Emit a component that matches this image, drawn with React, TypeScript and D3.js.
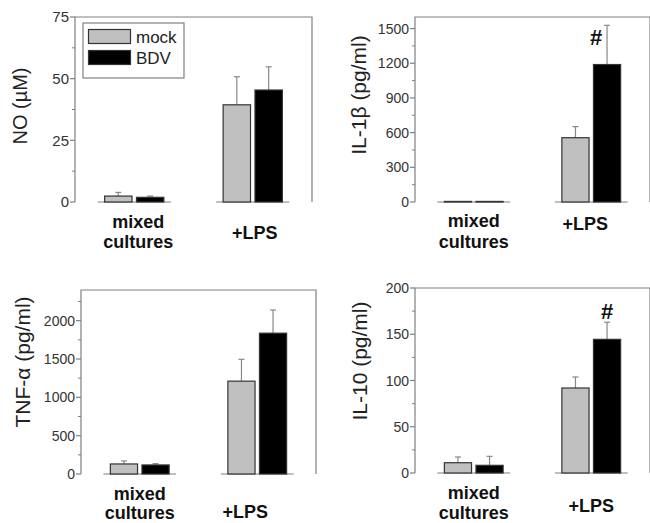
import React, { useEffect, useRef } from 'react'
import * as d3 from 'd3'

const groups = ['mixed cultures', '+LPS']
const seriesNames = ['mock', 'BDV']
const seriesFill = ['#c0c0c0', '#000000']

// values: [mixed cultures, +LPS]
const noMock = [2.4, 39.4]
const noMockErr = [1.5, 11.4]
const noBdv = [1.9, 45.4]
const noBdvErr = [0.5, 9.4]

const il1Mock = [5, 556]
const il1MockErr = [0, 96]
const il1Bdv = [5, 1189]
const il1BdvErr = [0, 339]

const tnfMock = [131, 1211]
const tnfMockErr = [39, 285]
const tnfBdv = [118, 1837]
const tnfBdvErr = [17, 302]

const il10Mock = [11.1, 91.9]
const il10MockErr = [6.2, 11.9]
const il10Bdv = [8.3, 144.5]
const il10BdvErr = [9.7, 18.5]

const noTicks = [0, 25, 50, 75]
const noMinor = [12.5, 37.5, 62.5]
const il1Ticks = [0, 300, 600, 900, 1200, 1500]
const il1Minor = [150, 450, 750, 1050, 1350]
const tnfTicks = [0, 500, 1000, 1500, 2000]
const tnfMinor = [250, 750, 1250, 1750, 2250]
const il10Ticks = [0, 50, 100, 150, 200]
const il10Minor = [25, 75, 125, 175]

const panels = [
  { label: 'NO (\u00b5M)', labelSize: 20, labelX: 27, labelY: 106, left: 75, top: 17, right: 312, bottom: 202,
    max: 75, ticks: noTicks, minor: noMinor, tickSize: 15, mean: [noMock, noBdv], err: [noMockErr, noBdvErr],
    legend: true, xlab: [{ dx: 4, y: [228, 248] }, { dx: 2, y: [239] }], mark: null },
  { label: 'IL-1\u03b2 (pg/ml)', labelSize: 21, labelX: 366, labelY: 95, left: 415, top: 17, right: 650, bottom: 202,
    max: 1600, ticks: il1Ticks, minor: il1Minor, tickSize: 14, mean: [il1Mock, il1Bdv], err: [il1MockErr, il1BdvErr],
    legend: false, xlab: [{ dx: 0, y: [227, 248] }, { dx: -6, y: [230] }], mark: { dx: -11, dy: -20, fromMean: true } },
  { label: 'TNF-\u03b1 (pg/ml)', labelSize: 21, labelX: 30, labelY: 362, left: 81, top: 290, right: 316, bottom: 474,
    max: 2400, ticks: tnfTicks, minor: tnfMinor, tickSize: 14, mean: [tnfMock, tnfBdv], err: [tnfMockErr, tnfBdvErr],
    legend: false, xlab: [{ dx: 0, y: [500, 519] }, { dx: -12, y: [518] }], mark: null },
  { label: 'IL-10 (pg/ml)', labelSize: 21, labelX: 367, labelY: 361, left: 415, top: 288, right: 650, bottom: 473,
    max: 200, ticks: il10Ticks, minor: il10Minor, tickSize: 14, mean: [il10Mock, il10Bdv], err: [il10MockErr, il10BdvErr],
    legend: false, xlab: [{ dx: 0, y: [499, 519] }, { dx: 0, y: [512] }], mark: { dx: 0, dy: -3, fromMean: false } },
]

const axisColor = '#808080'
const font = 'Liberation Sans, Arial, sans-serif'

function App() {
  const ref = useRef<SVGSVGElement>(null)

  useEffect(() => {
    const svg = d3.select(ref.current)
    svg.selectAll('*').remove()

    panels.forEach((p) => {
      const g = svg.append('g')
      const y = d3.scaleLinear().domain([0, p.max]).range([p.bottom, p.top])
      const x0 = d3.scaleBand().domain(groups).range([p.left, p.right]).paddingInner(0.5).paddingOuter(0.25)
      const x1 = d3.scaleBand().domain(seriesNames).range([0, x0.bandwidth()]).paddingInner(0.14)

      // frame: left, top, right
      g.append('path')
        .attr('d', `M${p.left},${p.bottom}V${p.top}H${p.right}V${p.bottom}`)
        .attr('fill', 'none')
        .attr('stroke', axisColor)
        .attr('stroke-width', 1.2)

      // baseline pieces under each group
      groups.forEach((grp) => {
        g.append('line')
          .attr('x1', x0(grp)! - 7).attr('x2', x0(grp)! + x0.bandwidth() + 7)
          .attr('y1', p.bottom).attr('y2', p.bottom)
          .attr('stroke', axisColor).attr('stroke-width', 1.2)
      })

      g.selectAll('.major').data(p.ticks).enter().append('line')
        .attr('x1', p.left - 5).attr('x2', p.left)
        .attr('y1', (d) => y(d)).attr('y2', (d) => y(d))
        .attr('stroke', axisColor).attr('stroke-width', 1.2)
      g.selectAll('.minor').data(p.minor).enter().append('line')
        .attr('x1', p.left - 3).attr('x2', p.left)
        .attr('y1', (d) => y(d)).attr('y2', (d) => y(d))
        .attr('stroke', axisColor).attr('stroke-width', 1)
      g.selectAll('.tl').data(p.ticks).enter().append('text')
        .attr('x', p.left - 6)
        .attr('y', (d) => y(d))
        .attr('dy', '0.36em')
        .attr('text-anchor', 'end')
        .style('font-family', font)
        .style('font-size', p.tickSize + 'px')
        .attr('fill', '#333')
        .text((d) => d)

      g.append('text')
        .attr('transform', `translate(${p.labelX},${p.labelY}) rotate(-90)`)
        .attr('text-anchor', 'middle')
        .style('font-family', font)
        .style('font-size', p.labelSize + 'px')
        .attr('fill', '#222')
        .text(p.label)

      seriesNames.forEach((s, si) => {
        groups.forEach((grp, gi) => {
          const v = p.mean[si][gi]
          const e = p.err[si][gi]
          const bx = x0(grp)! + x1(s)!
          const cx = bx + x1.bandwidth() / 2
          if (e > 0) {
            g.append('line')
              .attr('x1', cx).attr('x2', cx)
              .attr('y1', y(v)).attr('y2', y(v + e))
              .attr('stroke', '#888').attr('stroke-width', 1.2)
            g.append('line')
              .attr('x1', cx - 3).attr('x2', cx + 3)
              .attr('y1', y(v + e)).attr('y2', y(v + e))
              .attr('stroke', '#888').attr('stroke-width', 1.2)
          }
          g.append('rect')
            .attr('x', bx).attr('y', y(v))
            .attr('width', x1.bandwidth())
            .attr('height', p.bottom - y(v))
            .attr('fill', seriesFill[si])
            .attr('stroke', '#333').attr('stroke-width', 1.2)
        })
      })

      if (p.mark) {
        const gi = 1
        const v = p.mean[1][gi]
        const e = p.err[1][gi]
        const cx = x0(groups[gi])! + x1('BDV')! + x1.bandwidth() / 2
        g.append('text')
          .attr('x', cx + p.mark.dx)
          .attr('y', (p.mark.fromMean ? y(v) : y(v + e)) + p.mark.dy)
          .attr('text-anchor', 'middle')
          .style('font-family', font)
          .style('font-size', '22px')
          .style('font-weight', 'bold')
          .attr('fill', '#111')
          .text('#')
      }

      groups.forEach((grp, gi) => {
        const words = grp === '+LPS' ? [grp] : grp.split(' ')
        const cx = x0(grp)! + x0.bandwidth() / 2 + p.xlab[gi].dx
        words.forEach((w, wi) => {
          g.append('text')
            .attr('x', cx)
            .attr('y', p.xlab[gi].y[wi])
            .attr('text-anchor', 'middle')
            .style('font-family', font)
            .style('font-size', '18px')
            .style('font-weight', 'bold')
            .attr('fill', '#111')
            .text(w)
        })
      })

      if (p.legend) {
        const lg = g.append('g')
        lg.append('rect')
          .attr('x', 83).attr('y', 23).attr('width', 101).attr('height', 55)
          .attr('fill', 'white').attr('stroke', axisColor).attr('stroke-width', 1.2)
        seriesNames.forEach((s, si) => {
          lg.append('rect')
            .attr('x', 88.5).attr('y', 29.5 + si * 21)
            .attr('width', 42).attr('height', 14)
            .attr('fill', seriesFill[si]).attr('stroke', '#333').attr('stroke-width', 1.2)
          lg.append('text')
            .attr('x', 136).attr('y', 43 + si * 21)
            .style('font-family', font)
            .style('font-size', '17px')
            .attr('fill', '#222')
            .text(s)
        })
      }
    })
  }, [])

  return (
    <div>
      <style>{`body { margin: 0; }`}</style>
      <svg ref={ref} width={650} height={523} style={{ display: 'block', background: 'white' }}></svg>
    </div>
  )
}

export default App
